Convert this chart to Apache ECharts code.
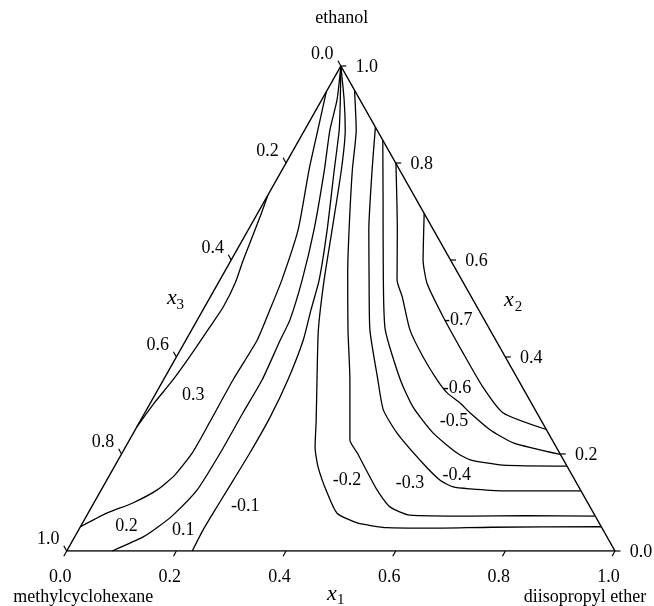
<!DOCTYPE html>
<html><head><meta charset="utf-8">
<script src="https://cdn.jsdelivr.net/npm/echarts@6/dist/echarts.min.js"></script>
<style>html,body{margin:0;padding:0;background:#fff}#c{width:654px;height:606px}</style>
</head><body><div id="c"></div>
<script>
// Components: x1 = diisopropyl ether (bottom-right), x2 = ethanol (top), x3 = methylcyclohexane (bottom-left)
const vertexNames = ['diisopropyl ether', 'ethanol', 'methylcyclohexane'];
const tickValues = [0, 0.2, 0.4, 0.6, 0.8, 1.0];
const contourValues = ['0.3', '0.2', '0.1', '-0.1', '-0.2', '-0.3', '-0.4', '-0.5', '-0.6', '-0.7'];
// contour lines as [x1, x2] compositions
const c03 = [[0,0.734],[0.008,0.69],[0.022,0.60],[0.031,0.553],[0.034,0.503],[0.030,0.46],[0.026,0.42],[0.022,0.385],[0.016,0.346],[0.007,0.305],[0,0.256]];
const c02 = [[0,0.947],[0.024,0.868],[0.049,0.786],[0.091,0.662],[0.113,0.559],[0.122,0.497],[0.130,0.435],[0.127,0.353],[0.128,0.266],[0.128,0.204],[0.119,0.157],[0.102,0.126],[0.071,0.099],[0.034,0.078],[0,0.050]];
const c01 = [[0,1],[0.028,0.93],[0.046,0.868],[0.077,0.786],[0.120,0.662],[0.150,0.559],[0.169,0.476],[0.172,0.435],[0.180,0.353],[0.179,0.285],[0.179,0.202],[0.175,0.126],[0.157,0.074],[0.142,0.050],[0.125,0.029],[0.083,0]];
const cm01 = [[0,1],[0.034,0.93],[0.063,0.868],[0.095,0.786],[0.144,0.662],[0.181,0.559],[0.197,0.497],[0.214,0.435],[0.227,0.353],[0.233,0.276],[0.233,0.202],[0.230,0.126],[0.228,0.078],[0.227,0.043],[0.229,0]];
const cm02 = [[0,1],[0.041,0.93],[0.074,0.868],[0.108,0.786],[0.153,0.662],[0.190,0.559],[0.231,0.456],[0.280,0.353],[0.320,0.270],[0.346,0.214],[0.372,0.173],[0.415,0.120],[0.454,0.078],[0.501,0.058],[0.560,0.048],[0.64,0.047],[0.75,0.049],[0.950,0.050]];
const cm03 = [[0.050,0.950],[0.094,0.868],[0.128,0.786],[0.184,0.662],[0.226,0.573],[0.285,0.456],[0.340,0.353],[0.402,0.229],[0.429,0.202],[0.503,0.126],[0.544,0.091],[0.589,0.074],[0.70,0.072],[0.80,0.073],[0.928,0.072]];
const cm04 = [[0.126,0.874],[0.164,0.786],[0.220,0.662],[0.272,0.559],[0.325,0.456],[0.391,0.353],[0.432,0.291],[0.481,0.243],[0.559,0.181],[0.608,0.146],[0.639,0.132],[0.672,0.128],[0.734,0.124],[0.876,0.124]];
const cm05 = [[0.153,0.847],[0.215,0.724],[0.298,0.559],[0.353,0.456],[0.432,0.353],[0.483,0.297],[0.547,0.243],[0.611,0.202],[0.642,0.188],[0.707,0.177],[0.825,0.175]];
const cm06 = [[0.201,0.799],[0.272,0.662],[0.323,0.559],[0.350,0.524],[0.398,0.456],[0.450,0.400],[0.499,0.353],[0.531,0.326],[0.565,0.305],[0.593,0.285],[0.647,0.250],[0.703,0.223],[0.801,0.199]];
const cm07 = [[0.304,0.696],[0.350,0.600],[0.382,0.551],[0.445,0.483],[0.519,0.408],[0.590,0.338],[0.653,0.285],[0.751,0.250]];
const contours = [c03, c02, c01, cm01, cm02, cm03, cm04, cm05, cm06, cm07];
// contour label anchors [text, x1, x2]
const contourLabels = [['0.3',0.070,0.322],['0.2',0.084,0.050],['0.1',0.191,0.043],['-0.1',0.279,0.093],['-0.2',0.438,0.146],['-0.3',0.556,0.140],['-0.4',0.633,0.157],['-0.5',0.573,0.267],['-0.6',0.544,0.336],['-0.7',0.476,0.476]];

function tern(x1, x2) { return [x1 + x2 / 2, x2]; }

const SERIF = '"Liberation Serif", "Times New Roman", serif';
const FONT = '18px ' + SERIF;
const series = [];
series.push({
  type: 'line', data: [[0,0],[1,0],[0,1],[0,0]].map(p => tern(p[0], p[1])),
  symbol: 'none', lineStyle: { color: '#000', width: 1.5 }, silent: true, z: 3
});
contours.forEach((c, i) => {
  series.push({
    type: 'line', name: contourValues[i], data: c.map(p => tern(p[0], p[1])),
    symbol: 'none', smooth: 0.2, lineStyle: { color: '#000', width: 1.3 }, silent: true, z: 2
  });
});
series.push({
  type: 'custom', clip: false, silent: true, z: 5,
  data: [[0.5, 0.5]],
  renderItem: function (params, api) {
    const ch = [];
    const seg = (p, q) => ({ type: 'line', shape: { x1: p[0], y1: p[1], x2: q[0], y2: q[1] }, style: { stroke: '#000', lineWidth: 1.2 } });
    const txt = (s, x, y, extra) => ({ type: 'text', x: x, y: y, style: Object.assign({ text: s, font: FONT, fill: '#000', align: 'center', verticalAlign: 'middle' }, extra || {}) });
    tickValues.forEach(v => {
      const s = v.toFixed(1);
      const p = api.coord(tern(v, 0));
      ch.push(seg(p, [p[0] - 2.9, p[1] + 5.2]));
      ch.push(txt(s, p[0] - 6.5, p[1] + 26));
      const q = api.coord(tern(1 - v, v));
      ch.push(seg(q, [q[0] + 5.5, q[1]]));
      ch.push(txt(s, q[0] + 26, q[1] + 1));
      const r = api.coord(tern(0, 1 - v));
      ch.push(seg(r, [r[0] - 2.9, r[1] - 5.2]));
      ch.push(txt(s, r[0] - 18.5, r[1] - 11.5));
    });
    const BL = api.coord(tern(0, 0)), BR = api.coord(tern(1, 0)), T = api.coord(tern(0, 1));
    ch.push(txt(vertexNames[1], T[0] + 1, T[1] - 47.5));
    ch.push(txt(vertexNames[2], BL[0] + 16.6, BL[1] + 46.3));
    ch.push(txt(vertexNames[0], BR[0] - 30, BR[1] + 46.3));
    const mid = (a, b) => [(a[0] + b[0]) / 2, (a[1] + b[1]) / 2];
    const axisTitle = (pos, n, dx, dy) => {
      ch.push(txt('x', pos[0], pos[1], { font: 'italic 22px ' + SERIF }));
      ch.push(txt(n, pos[0] + dx, pos[1] + dy, { font: '15px ' + SERIF }));
    };
    const mb = mid(BL, BR), mr = mid(T, BR), ml = mid(T, BL);
    axisTitle([mb[0] - 9, mb[1] + 43], '1', 9, 6);
    axisTitle([mr[0] + 31, mr[1] - 8], '2', 9.5, 7);
    axisTitle([ml[0] - 32, ml[1] - 10], '3', 8.5, 6.5);
    contourLabels.forEach(l => {
      const p = api.coord(tern(l[1], l[2]));
      ch.push(txt(l[0], p[0], p[1]));
    });
    return { type: 'group', children: ch };
  }
});

const chart = echarts.init(document.getElementById('c'), null, { renderer: 'canvas' });
chart.setOption({
  animation: false,
  backgroundColor: '#fff',
  grid: { left: 66.7, right: 39, top: 66, bottom: 55 },
  xAxis: { type: 'value', min: 0, max: 1, show: false },
  yAxis: { type: 'value', min: 0, max: 1, show: false },
  series: series
});
</script>
</body></html>
